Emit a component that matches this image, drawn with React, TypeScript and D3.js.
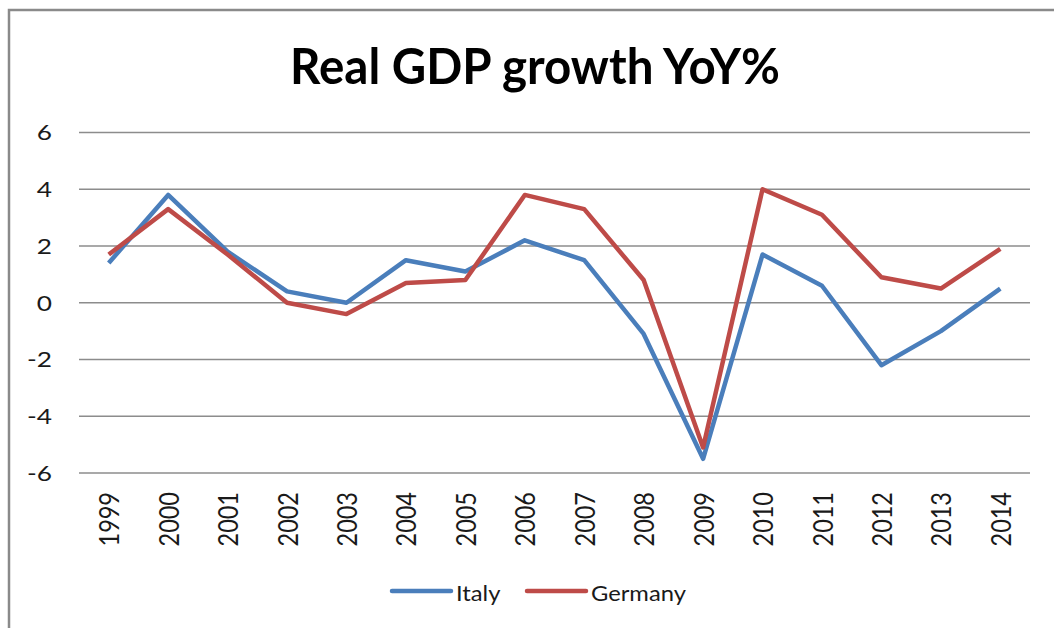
import React from "react";
import * as d3 from "d3";

const years = ["1999","2000","2001","2002","2003","2004","2005","2006","2007","2008","2009","2010","2011","2012","2013","2014"];
const italy = [1.4, 3.8, 1.8, 0.4, 0.0, 1.5, 1.1, 2.2, 1.5, -1.1, -5.5, 1.7, 0.6, -2.2, -1.0, 0.5];
const germany = [1.7, 3.3, 1.7, 0.0, -0.4, 0.7, 0.8, 3.8, 3.3, 0.8, -5.1, 4.0, 3.1, 0.9, 0.5, 1.9];
const yTicks = [-6, -4, -2, 0, 2, 4, 6];
const seriesNames = ["Italy", "Germany"];
const seriesColors = ["#4A7EBB", "#BE4B48"];

const W = 1054, H = 628;
const plotLeft = 79, plotRight = 1030, plotTop = 132.5, plotBottom = 473;
const FONT = "Lato, 'Open Sans', sans-serif";

export default function App() {
  const x = d3.scaleBand<string>().domain(years).range([plotLeft, plotRight]);
  const y = d3.scaleLinear().domain([-6, 6]).range([plotBottom, plotTop]);
  const cx = (d: string) => (x(d) as number) + x.bandwidth() / 2;
  const line = d3.line<number>().x((_, i) => cx(years[i])).y((v) => y(v));
  const series = [italy, germany];

  return (
    <svg width={W} height={H} style={{ position: "absolute", left: 0, top: 0, background: "#fff" }}>
      <rect x={9} y={10} width={1080} height={700} fill="#fff" stroke="#8a8a8a" strokeWidth={2.5} />
      <text x={535} y={84} textAnchor="middle" fontFamily={FONT} fontWeight={700} fontSize={49}
        textLength={490} lengthAdjust="spacingAndGlyphs" fill="#000">Real GDP growth YoY%</text>
      {yTicks.map((t) => (
        <g key={t}>
          <line x1={plotLeft} x2={plotRight} y1={y(t)} y2={y(t)} stroke="#8c8c8c" strokeWidth={1.4} />
          <text transform={`translate(52,${y(t)}) scale(1.25,1)`} textAnchor="end" dominantBaseline="central"
            fontFamily={FONT} fontSize={21} fill="#1a1a1a">{t}</text>
        </g>
      ))}
      {years.map((yr) => (
        <text key={yr} transform={`translate(${cx(yr)},${492}) scale(1.12,1) rotate(-90)`} textAnchor="end"
          dominantBaseline="central" fontFamily={FONT} fontSize={23.5} fill="#1a1a1a">{yr}</text>
      ))}
      {series.map((s, i) => (
        <path key={i} d={line(s) || ""} fill="none" stroke={seriesColors[i]} strokeWidth={4.5}
          strokeLinejoin="round" strokeLinecap="butt" />
      ))}
      {seriesNames.map((n, i) => {
        const x0 = i === 0 ? 392 : 527;
        return (
          <g key={n}>
            <line x1={x0} x2={x0 + 59} y1={591} y2={591} stroke={seriesColors[i]} strokeWidth={4.5} strokeLinecap="round" />
            <text transform={`translate(${x0 + 64},${592}) scale(1.08,1)`} dominantBaseline="central"
              fontFamily={FONT} fontSize={22} fill="#1a1a1a">{n}</text>
          </g>
        );
      })}
    </svg>
  );
}
